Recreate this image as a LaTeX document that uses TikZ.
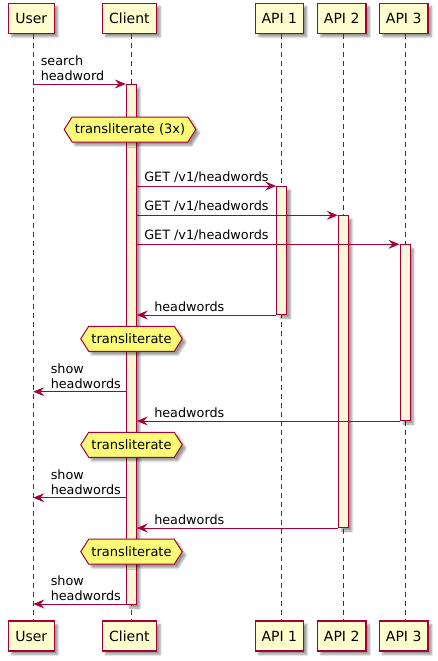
\documentclass[tikz,border=0pt]{standalone}
\usepackage{fontspec}
\setmainfont{DejaVu Sans}
\usetikzlibrary{shapes.symbols,shadows.blur,arrows.meta,calc}
\definecolor{bord}{HTML}{A80036}
\definecolor{partfill}{HTML}{FEFECE}
\definecolor{actfill}{HTML}{F8F8D8}
\definecolor{hexfill}{HTML}{FBFB77}
\tikzset{
  shad/.style={blur shadow={shadow xshift=3.5pt,shadow yshift=-3.5pt,shadow blur steps=6,
    shadow blur radius=2pt,shadow opacity=40}},
  part/.style={draw=bord,fill=partfill,line width=1.1pt,minimum height=30pt,inner sep=0pt,
    font=\fontsize{14}{16}\selectfont,shad},
  life/.style={draw=bord,line width=0.8pt,dash pattern=on 5pt off 4pt},
  actbar/.style={draw=bord,fill=actfill,line width=1pt,minimum width=10pt,inner sep=0pt,anchor=north,shad},
  msg/.style={draw=bord,line width=0.9pt,-{Stealth[length=11pt,width=9pt,inset=4pt]}},
  lbl/.style={font=\fontsize{12.8}{15}\selectfont,align=left,inner sep=0pt,anchor=south west},
  hexn/.style={signal,signal to=east and west,signal pointer angle=115,draw=bord,fill=hexfill,
    line width=1pt,minimum height=25pt,inner xsep=2.7pt,inner ysep=0pt,
    font=\fontsize{13}{15}\selectfont,shad}
}
\begin{document}
\begin{tikzpicture}[x=1pt,y=-1pt]
\useasboundingbox (0,0) rectangle (437,661);
% participants
\node[part,minimum width=46pt] (uT) at (31.3,18.3) {User};
\node[part,minimum width=54.5pt] (cT) at (129.4,18.3) {Client};
\node[part,minimum width=48pt] (a1T) at (279.3,18.3) {API 1};
\node[part,minimum width=48.5pt] (a2T) at (341.7,18.3) {API 2};
\node[part,minimum width=48.5pt] (a3T) at (403.7,18.3) {API 3};
\node[part,minimum width=46pt] (uB) at (31.3,636) {User};
\node[part,minimum width=54.5pt] (cB) at (129.4,636) {Client};
\node[part,minimum width=48pt] (a1B) at (279.3,636) {API 1};
\node[part,minimum width=48.5pt] (a2B) at (341.7,636) {API 2};
\node[part,minimum width=48.5pt] (a3B) at (403.7,636) {API 3};
% lifeline x positions
\coordinate (uL) at (33.3,0);
\coordinate (cL) at (131,0);
\coordinate (a1L) at (281.7,0);
\coordinate (a2L) at (343.3,0);
\coordinate (a3L) at (405.3,0);
\draw[life] (uT.south -| uL) -- (uB.north -| uL);
\draw[life] (cT.south -| cL) -- (cB.north -| cL);
\draw[life] (a1T.south -| a1L) -- (a1B.north -| a1L);
\draw[life] (a2T.south -| a2L) -- (a2B.north -| a2L);
\draw[life] (a3T.south -| a3L) -- (a3B.north -| a3L);
% activations
\node[actbar,minimum height=520pt] (aC) at (131.3,84) {};
\node[actbar,minimum height=128pt] (aA1) at (281.7,186) {};
\node[actbar,minimum height=311.7pt] (aA2) at (343.3,215.3) {};
\node[actbar,minimum height=175.7pt] (aA3) at (405,244.3) {};
% message levels
\coordinate (y1) at (0,84);
\coordinate (y5) at (0,391.7);
\coordinate (y7) at (0,497.7);
\coordinate (y9) at (0,604);
% messages
\draw[msg] (uL |- y1) -- (aC.north west)
  node[lbl,pos=0,xshift=7pt,yshift=3pt] (l1) {search\\headword};
\node[hexn] (h1) at (130,129.5) {transliterate (3x)};
\draw[msg] (aC.east |- aA1.north) -- (aA1.north west)
  node[lbl,pos=0,xshift=7pt,yshift=3pt] (l2) {GET /v1/headwords};
\draw[msg] (aC.east |- aA2.north) -- (aA2.north west)
  node[lbl,pos=0,xshift=7pt,yshift=3pt] (l3) {GET /v1/headwords};
\draw[msg] (aC.east |- aA3.north) -- (aA3.north west)
  node[lbl,pos=0,xshift=7pt,yshift=3pt] (l4) {GET /v1/headwords};
\draw[msg] (aA1.south west) -- (aC.east |- aA1.south)
  node[lbl,pos=1,xshift=17pt,yshift=3pt] (l5) {headwords};
\node[hexn] (h2) at (131.5,338.8) {transliterate};
\draw[msg] (aC.west |- y5) -- (uL |- y5)
  node[lbl,pos=1,xshift=17pt,yshift=3pt] (l6) {show\\headwords};
\draw[msg] (aA3.south west) -- (aC.east |- aA3.south)
  node[lbl,pos=1,xshift=17pt,yshift=3pt] (l7) {headwords};
\node[hexn] (h3) at (131.5,444.8) {transliterate};
\draw[msg] (aC.west |- y7) -- (uL |- y7)
  node[lbl,pos=1,xshift=17pt,yshift=3pt] (l8) {show\\headwords};
\draw[msg] (aA2.south west) -- (aC.east |- aA2.south)
  node[lbl,pos=1,xshift=17pt,yshift=3pt] (l9) {headwords};
\node[hexn] (h4) at (131.5,551.7) {transliterate};
\draw[msg] (aC.west |- y9) -- (uL |- y9)
  node[lbl,pos=1,xshift=17pt,yshift=3pt] (l10) {show\\headwords};
\end{tikzpicture}
\end{document}
